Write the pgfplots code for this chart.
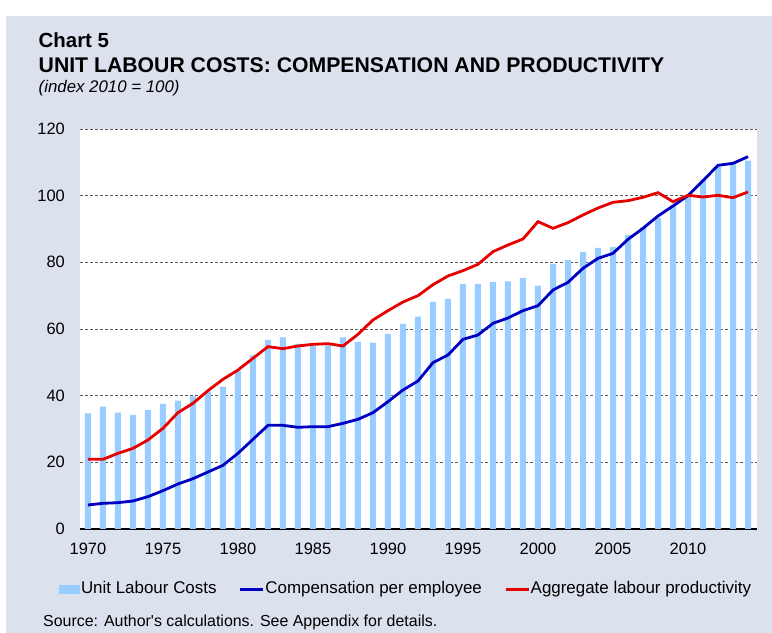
\documentclass[border=0pt]{standalone}
\usepackage{fontspec}
\setmainfont{Liberation Sans}
\usepackage{pgfplots}
\usepackage{pgfplotstable}
\pgfplotsset{compat=1.18}
\definecolor{panel}{RGB}{220,225,238}
\definecolor{barblue}{RGB}{153,204,255}
\definecolor{lineblue}{RGB}{0,0,192}
\definecolor{linered}{RGB}{230,0,0}
\definecolor{gridgrey}{RGB}{90,90,90}

\pgfplotstableread{
year ulc comp prod
1970 34.7 7.2 20.9
1971 36.7 7.7 20.9
1972 34.9 7.9 22.7
1973 34.2 8.4 24.2
1974 35.7 9.7 26.7
1975 37.5 11.5 30.2
1976 38.5 13.5 34.9
1977 39.8 15.1 37.7
1978 41.2 17.1 41.5
1979 42.7 19.1 44.9
1980 47.5 22.7 47.7
1981 52.1 26.9 51.2
1982 56.7 31.1 54.7
1983 57.5 31.1 54.1
1984 55.5 30.5 54.9
1985 54.9 30.7 55.4
1986 55.1 30.7 55.6
1987 57.5 31.7 54.9
1988 56.1 32.9 58.4
1989 55.9 34.9 62.7
1990 58.5 38.2 65.5
1991 61.5 41.7 68.1
1992 63.7 44.4 70.0
1993 68.1 49.9 73.3
1994 69.0 52.2 75.9
1995 73.5 56.9 77.5
1996 73.5 58.2 79.4
1997 74.1 61.7 83.2
1998 74.3 63.3 85.2
1999 75.3 65.5 87.0
2000 73.0 67.0 92.2
2001 79.5 71.7 90.2
2002 80.7 74.0 91.9
2003 83.1 78.2 94.2
2004 84.3 81.2 96.3
2005 84.6 82.7 98.0
2006 88.2 86.9 98.5
2007 90.5 90.2 99.5
2008 93.3 93.9 100.9
2009 96.9 96.9 98.2
2010 100.0 100.0 100.1
2011 104.7 104.5 99.6
2012 108.7 109.1 100.1
2013 109.5 109.7 99.4
2014 110.5 111.7 101.1
}\datatable

\begin{document}
\begin{tikzpicture}[x=1bp,y=1bp]
\fill[white] (0,0) rectangle (772,633);
\fill[panel] (6,0) rectangle (772,617);
\node[anchor=base west, inner sep=0pt, font=\fontsize{20.5}{24}\selectfont\bfseries] at (38.5,585.7) {Chart 5};
\node[anchor=base west, inner sep=0pt, font=\fontsize{21.3}{25}\selectfont\bfseries] at (38.5,560.7) {UNIT LABOUR COSTS: COMPENSATION AND PRODUCTIVITY};
\node[anchor=base west, inner sep=0pt, font=\fontsize{16.9}{20}\selectfont\itshape] at (38.5,540) {(index 2010 = 100)};
\node[anchor=base west, inner sep=0pt, font=\fontsize{16}{19}\selectfont] at (43,6) {Source: Author\textquotesingle s calculations. See Appendix for details.};
\begin{axis}[
  at={(80bp,104bp)}, anchor=south west,
  width=677bp, height=400bp, scale only axis,
  xmin=1969.47, xmax=2014.6, ymin=0, ymax=120,
  ytick={0,20,...,120},
  xtick={1970,1975,...,2010},
  axis background/.style={fill=white},
  axis x line*=bottom, axis y line*=left,
  x axis line style={line width=2.7bp, black, -},
  y axis line style={draw=none},
  major tick length=0pt,
  ymajorgrids,
  grid style={dash pattern=on 3bp off 2bp, gridgrey, line width=0.8bp},
  /pgf/number format/assume math mode=true,
  /pgf/number format/1000 sep={},
  tick label style={font=\fontsize{16.5}{19}\selectfont},
  yticklabel style={anchor=east, inner sep=0pt, xshift=-15bp},
  xticklabel style={anchor=north, inner sep=0pt, yshift=-14bp},
  legend columns=3,
  legend cell align=left,
  legend style={at={(-0.0307,-0.1515)}, anchor=west, draw=none, fill=none,
    inner sep=0pt, outer sep=0pt,
    font=\fontsize{17}{20}\selectfont,
    nodes={inner sep=0.8bp, text height=12.3bp, text depth=3.5bp},
    /tikz/every even column/.append style={column sep=21.4bp}},
]
\addplot[ybar, bar width=6bp, fill=barblue, draw=none,
  legend image code/.code={\fill[barblue] (0bp,-4.5bp) rectangle (21bp,4.5bp);}]
  table[x=year, y=ulc] {\datatable};
\addlegendentry{Unit Labour Costs}
\addplot[lineblue, line width=2.8bp, no markers,
  legend image code/.code={\draw[lineblue, line width=2.8bp] (0bp,0bp) -- (23bp,0bp);}]
  table[x=year, y=comp] {\datatable};
\addlegendentry{Compensation per employee}
\addplot[linered, line width=2.8bp, no markers,
  legend image code/.code={\draw[linered, line width=2.8bp] (0bp,0bp) -- (23bp,0bp);}]
  table[x=year, y=prod] {\datatable};
\addlegendentry{Aggregate labour productivity}
\end{axis}
\end{tikzpicture}
\end{document}
